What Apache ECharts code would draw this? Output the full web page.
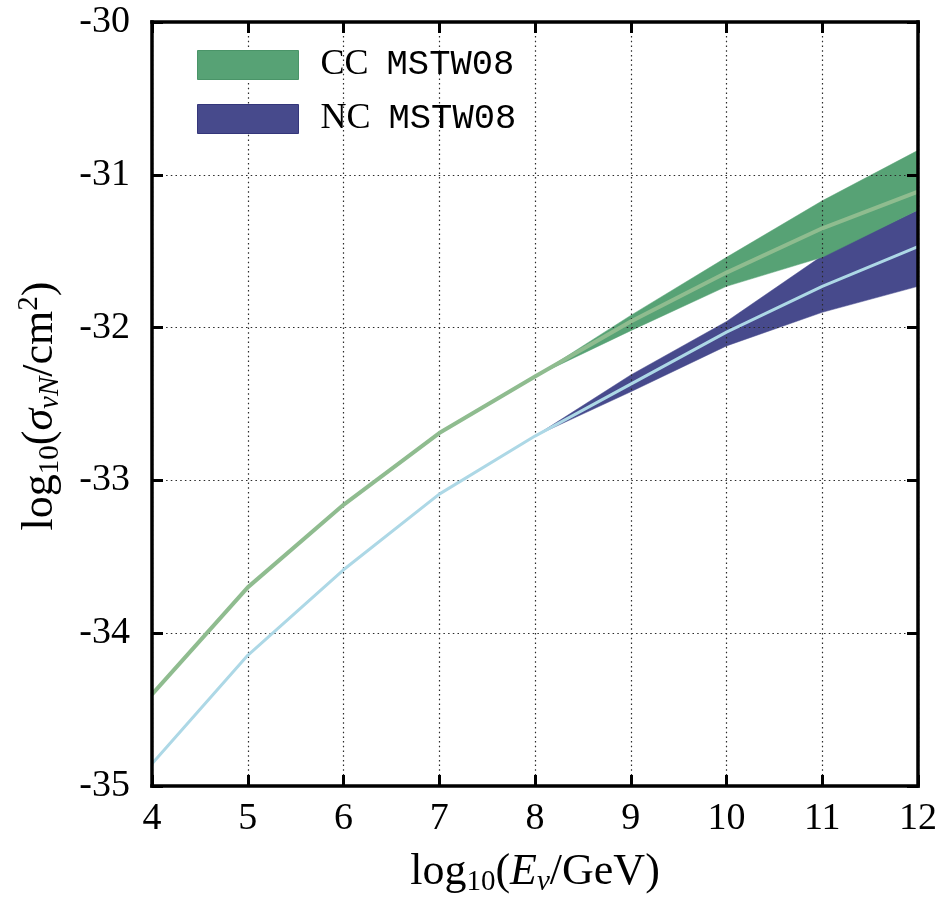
<!DOCTYPE html>
<html>
<head>
<meta charset="utf-8">
<style>
  html, body { margin: 0; padding: 0; background: #ffffff; }
  #chart { width: 948px; height: 902px; }
</style>
<script src="https://cdn.jsdelivr.net/npm/echarts@6/dist/echarts.min.js"></script>
</head>
<body>
<div id="chart"></div>
<script>
// log10 of neutrino energy in GeV
const energies = [4, 5, 6, 7, 8, 9, 10, 11, 12];

// Charged-current cross section (log10 of sigma / cm^2), central value and PDF band
const ccCentral = [-34.40, -33.70, -33.16, -32.69, -32.32, -31.96, -31.64, -31.35, -31.11];
const ccLower   = [-34.40, -33.70, -33.16, -32.69, -32.32, -32.02, -31.73, -31.54, -31.23];
const ccUpper   = [-34.40, -33.70, -33.16, -32.69, -32.32, -31.92, -31.54, -31.17, -30.84];

// Neutral-current cross section
const ncCentral = [-34.855, -34.145, -33.585, -33.09, -32.71, -32.37, -32.03, -31.73, -31.47];
const ncLower   = [-34.855, -34.145, -33.585, -33.09, -32.71, -32.42, -32.12, -31.90, -31.73];
const ncUpper   = [-34.855, -34.145, -33.585, -33.09, -32.71, -32.31, -31.96, -31.53, -31.23];

const xTicks = [4, 5, 6, 7, 8, 9, 10, 11, 12];
const yTicks = [-35, -34, -33, -32, -31, -30];

const legendNames = ['CC MSTW08', 'NC MSTW08'];

const SERIF = '"Liberation Serif", "DejaVu Serif", serif';
const MONO = '"Liberation Mono", "DejaVu Sans Mono", monospace';

const ccBandColor = '#57a275';
const ncBandColor = '#474a8c';
const ccLineColor = '#8fbc8f';
const ncLineColor = '#add8e6';

// One polygon per band: upper edge left-to-right, then lower edge back.
function bandSeries(name, lower, upper, color) {
  const rows = energies.map((x, i) => [x, lower[i], upper[i]]);
  return {
    name: name,
    type: 'custom',
    data: rows,
    encode: { x: 0, y: [1, 2] },
    color: color,
    silent: true,
    z: 2,
    renderItem: function (params, api) {
      if (params.dataIndex !== 0) return null;
      const top = rows.map(r => api.coord([r[0], r[2]]));
      const bottom = rows.map(r => api.coord([r[0], r[1]])).reverse();
      return {
        type: 'polygon',
        shape: { points: top.concat(bottom) },
        style: { fill: color, stroke: color, lineWidth: 0.5 }
      };
    }
  };
}

function centralSeries(name, values, color, width) {
  return {
    name: name,
    type: 'line',
    data: energies.map((x, i) => [x, values[i]]),
    symbol: 'none',
    lineStyle: { color: color, width: width },
    silent: true,
    z: 5
  };
}

const frameLine = { show: true, lineStyle: { color: '#000', width: 3.5, cap: 'square' } };
const frameTick = { show: true, inside: true, length: 11, lineStyle: { color: '#000', width: 3 } };

const xRange = { type: 'value', min: xTicks[0], max: xTicks[xTicks.length - 1], interval: 1 };
const yRange = { type: 'value', min: yTicks[0], max: yTicks[yTicks.length - 1], interval: 1 };

const gridDots = { show: true, lineStyle: { color: '#2a2a2a', width: 1.2, type: [1.5, 3.2] } };

const chart = echarts.init(document.getElementById('chart'), null, { renderer: 'canvas' });

chart.setOption({
  animation: false,
  backgroundColor: '#ffffff',
  grid: { left: 152, right: 30, top: 22, bottom: 116, containLabel: false },
  xAxis: [
    Object.assign({}, xRange, {
      position: 'bottom', z: 10,
      axisLine: frameLine, axisTick: frameTick, splitLine: { show: false },
      axisLabel: { show: true, margin: 14, color: '#000', fontFamily: SERIF, fontSize: 38,
        showMinLabel: true, showMaxLabel: true }
    }),
    Object.assign({}, xRange, {
      position: 'top', z: 10,
      axisLine: frameLine, axisTick: frameTick, splitLine: { show: false },
      axisLabel: { show: false }
    }),
    Object.assign({}, xRange, {
      z: 3,
      axisLine: { show: false }, axisTick: { show: false }, axisLabel: { show: false },
      splitLine: gridDots
    })
  ],
  yAxis: [
    Object.assign({}, yRange, {
      position: 'left', z: 10,
      axisLine: frameLine, axisTick: frameTick, splitLine: { show: false },
      axisLabel: { show: true, margin: 22, color: '#000', fontFamily: SERIF, fontSize: 38,
        formatter: v => String(v) }
    }),
    Object.assign({}, yRange, {
      position: 'right', z: 10,
      axisLine: frameLine, axisTick: frameTick, splitLine: { show: false },
      axisLabel: { show: false }
    }),
    Object.assign({}, yRange, {
      z: 3,
      axisLine: { show: false }, axisTick: { show: false }, axisLabel: { show: false },
      splitLine: gridDots
    })
  ],
  legend: {
    left: 192,
    top: 42,
    orient: 'vertical',
    itemWidth: 101,
    itemHeight: 29,
    itemGap: 18,
    selectedMode: false,
    data: [
      { name: legendNames[0], icon: 'rect', itemStyle: { color: ccBandColor, borderColor: '#4a9468', borderWidth: 1 } },
      { name: legendNames[1], icon: 'rect', itemStyle: { color: ncBandColor, borderColor: '#34367a', borderWidth: 1 } }
    ],
    formatter: name => {
      const parts = name.split(' ');
      return '{a|' + parts[0] + '}{b|' + parts[1] + '}';
    },
    textStyle: {
      color: '#000',
      rich: {
        a: { fontFamily: SERIF, fontSize: 36, lineHeight: 29, color: '#000', padding: [0, 18, 0, 17] },
        b: { fontFamily: MONO, fontSize: 35.5, lineHeight: 29, color: '#000' }
      }
    }
  },
  graphic: [
    {
      type: 'text',
      x: 535, y: 872,
      z: 20,
      style: {
        text: '{r|log}{s|10}{r|(}{i|E}{si|ν}{r|/GeV)}',
        align: 'center', verticalAlign: 'middle',
        rich: {
          r: { fontFamily: SERIF, fontSize: 44, lineHeight: 50, fill: '#000' },
          i: { fontFamily: SERIF, fontStyle: 'italic', fontSize: 44, lineHeight: 50, fill: '#000' },
          s: { fontFamily: SERIF, fontSize: 29, lineHeight: 32, verticalAlign: 'bottom', fill: '#000' },
          si: { fontFamily: SERIF, fontStyle: 'italic', fontSize: 29, lineHeight: 32, verticalAlign: 'bottom', fill: '#000' }
        }
      }
    },
    {
      type: 'text',
      x: 40, y: 406,
      rotation: Math.PI / 2,
      z: 20,
      style: {
        text: '{r|log}{s|10}{r|(}{i|σ}{si|νN}{r|/cm}{p|2}{r|)}',
        align: 'center', verticalAlign: 'middle',
        rich: {
          r: { fontFamily: SERIF, fontSize: 44, lineHeight: 50, fill: '#000' },
          i: { fontFamily: SERIF, fontStyle: 'italic', fontSize: 44, lineHeight: 50, fill: '#000' },
          s: { fontFamily: SERIF, fontSize: 29, lineHeight: 32, verticalAlign: 'bottom', fill: '#000' },
          si: { fontFamily: SERIF, fontStyle: 'italic', fontSize: 29, lineHeight: 32, verticalAlign: 'bottom', fill: '#000' },
          p: { fontFamily: SERIF, fontSize: 29, lineHeight: 28, verticalAlign: 'top', fill: '#000' }
        }
      }
    }
  ],
  series: [
    bandSeries(legendNames[1], ncLower, ncUpper, ncBandColor),
    bandSeries(legendNames[0], ccLower, ccUpper, ccBandColor),
    centralSeries('CC central', ccCentral, ccLineColor, 4),
    centralSeries('NC central', ncCentral, ncLineColor, 3)
  ]
});
</script>
</body>
</html>
